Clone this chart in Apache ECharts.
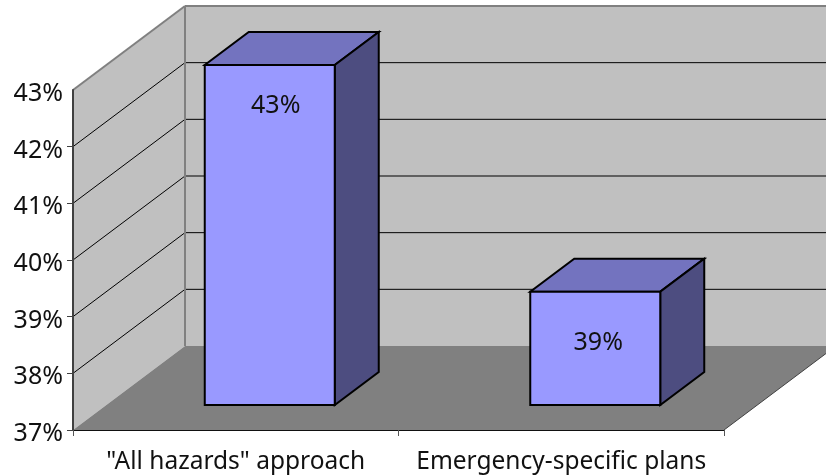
<!DOCTYPE html>
<html>
<head>
<meta charset="utf-8">
<style>html,body{margin:0;padding:0;background:#fff}#chart{width:826px;height:476px}</style>
<script src="https://cdn.jsdelivr.net/npm/echarts@6/dist/echarts.min.js"></script>
</head>
<body>
<div id="chart"></div>
<script>
const categories = ['"All hazards" approach', 'Emergency-specific plans'];
const values = [43, 39];
const axisMin = 37;
const axisMax = 43;
const gridValues = [38, 39, 40, 41, 42];

const FONT = '"Noto Sans", sans-serif';
const wallDepth = [112, -84];
const barDepth = [44, -33];
const barInset = [34, -25];
const barHalf = 65;
const labelDx = [6, 3];
const labelDy = [41, 51];

const chart = echarts.init(document.getElementById('chart'), null, {renderer: 'canvas'});

function edgeX(api) {
  const half = api.size([1, 0])[0] / 2;
  return [api.coord([0, axisMin])[0] - half, api.coord([1, axisMin])[0] + half];
}
function poly(points, fill, stroke, lineWidth) {
  return {type: 'polygon', shape: {points},
    style: {fill, stroke: stroke || 'none', lineWidth: lineWidth || 0, lineJoin: 'miter'}};
}
function line(p, q, stroke, lineWidth) {
  return {type: 'line', shape: {x1: p[0], y1: p[1], x2: q[0], y2: q[1]},
    style: {stroke, lineWidth}};
}
const back = p => [p[0] + wallDepth[0], p[1] + wallDepth[1]];

function renderFrame(params, api) {
  const [x0, x1] = edgeX(api);
  const yLow = api.coord([0, axisMin])[1];
  const yHigh = api.coord([0, axisMax])[1];
  const fl = [x0, yLow], fh = [x0, yHigh], rl = [x1, yLow], rh = [x1, yHigh];
  const kids = [
    poly([back(fl), back(fh), back(rh), back(rl)], '#C0C0C0'),
    poly([fl, fh, back(fh), back(fl)], '#C0C0C0'),
    poly([fl, rl, back(rl), back(fl)], '#808080')
  ];
  gridValues.forEach(v => {
    const y = api.coord([0, v])[1];
    kids.push(line([x0, y], back([x0, y]), '#000', 1));
    kids.push(line(back([x0, y]), back([x1, y]), '#000', 1));
  });
  kids.push(line(fh, back(fh), '#808080', 2));
  kids.push(line(back(fh), back(rh), '#808080', 2));
  kids.push(line(back(fh), back(fl), '#808080', 2));
  kids.push(line(rl, back(rl), '#404040', 1));
  return {type: 'group', children: kids};
}

function renderBar(params, api) {
  const i = api.value(0);
  const v = api.value(1);
  const top = api.coord([i, v]);
  const bot = api.coord([i, axisMin]);
  const cx = top[0] + barInset[0];
  const xl = cx - barHalf, xr = cx + barHalf;
  const yt = top[1] + barInset[1], yb = bot[1] + barInset[1];
  const dx = barDepth[0], dy = barDepth[1];
  const S = '#000';
  return {type: 'group', children: [
    poly([[xl, yt], [xr, yt], [xr + dx, yt + dy], [xl + dx, yt + dy]], '#7373BF', S, 2),
    poly([[xr, yt], [xr, yb], [xr + dx, yb + dy], [xr + dx, yt + dy]], '#4D4D80', S, 2),
    poly([[xl, yt], [xr, yt], [xr, yb], [xl, yb]], '#9999FF', S, 2),
    {type: 'text', style: {
      text: v + '%', x: cx + labelDx[i], y: yt + labelDy[i],
      textAlign: 'center', textVerticalAlign: 'middle',
      fill: '#111', font: '25px ' + FONT
    }}
  ]};
}

chart.setOption({
  animation: false,
  backgroundColor: '#fff',
  grid: {left: 73, top: 90, width: 651, height: 340, containLabel: false},
  xAxis: {
    type: 'category', data: categories, z: 5,
    axisLine: {show: true, lineStyle: {color: '#111', width: 1}},
    axisTick: {show: true, length: 6, alignWithLabel: false, lineStyle: {color: '#555'}},
    axisLabel: {color: '#111', fontFamily: FONT, fontSize: 24.5, margin: 20, interval: 0}
  },
  yAxis: {
    type: 'value', min: axisMin, max: axisMax, interval: 1, z: 5,
    axisLine: {show: true, lineStyle: {color: '#404040', width: 2}},
    axisTick: {show: true, length: 6, inside: false, customValues: [37, 38, 39, 40, 41, 42], lineStyle: {color: '#404040'}},
    axisLabel: {color: '#111', fontFamily: FONT, fontSize: 25, margin: 10, verticalAlign: 'top', lineHeight: 8, formatter: '{value}%'},
    splitLine: {show: false}
  },
  series: [
    {type: 'custom', name: 'frame', renderItem: renderFrame, data: [[0, axisMin]], silent: true, z: 1, clip: false},
    {type: 'custom', name: 'share', renderItem: renderBar,
     data: values.map((v, i) => [i, v]), encode: {x: 0, y: 1}, z: 2, clip: false}
  ]
});
</script>
</body>
</html>
